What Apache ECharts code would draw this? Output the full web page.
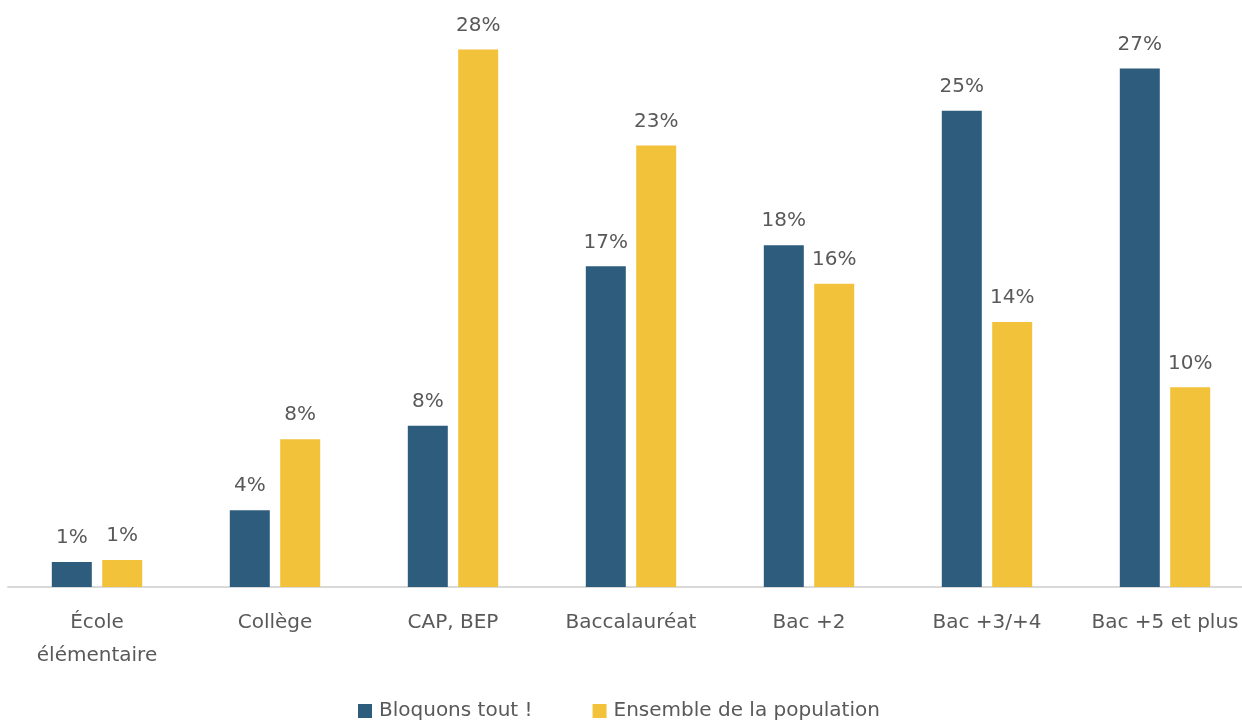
<!DOCTYPE html>
<html lang="fr">
<head>
<meta charset="utf-8">
<title>Niveau de diplôme</title>
<script src="https://cdn.jsdelivr.net/npm/echarts@6/dist/echarts.min.js"></script>
<style>
  html, body { margin: 0; padding: 0; background: #ffffff; overflow: hidden; }
  /* the chart runs a little past the right edge of the window */
  #chart { width: 1256px; height: 722px; }
</style>
</head>
<body>
<div id="chart"></div>
<script>
// Niveau de diplôme : mouvement « Bloquons tout ! » comparé à l'ensemble de la population (%)
const categories = ['École\nélémentaire', 'Collège', 'CAP, BEP', 'Baccalauréat', 'Bac +2', 'Bac +3/+4', 'Bac +5 et plus'];
const bloquonsTout = [1.3, 4.0, 8.4, 16.7, 17.8, 24.8, 27.0];
const ensemblePopulation = [1.4, 7.7, 28.0, 23.0, 15.8, 13.8, 10.4];
const seriesNames = ['Bloquons tout !', 'Ensemble de la population'];

const FONT = '"DejaVu Sans", "Open Sans", sans-serif';
const TEXT_COLOR = '#595959';
const labelStyle = {
  show: true,
  position: 'top',
  distance: 14,
  color: TEXT_COLOR,
  fontSize: 20,
  fontFamily: FONT,
  formatter: p => Math.round(p.value) + '%'
};

const chart = echarts.init(document.getElementById('chart'), null, { renderer: 'canvas' });
chart.setOption({
  animation: false,
  color: ['#2e5c7d', '#f2c23a'],
  grid: { left: 8, right: 2, top: 11, bottom: 135, containLabel: false },
  legend: {
    data: seriesNames,
    top: 696,
    left: 353,
    itemWidth: 14,
    itemHeight: 14,
    itemGap: 60,
    icon: 'rect',
    textStyle: { color: TEXT_COLOR, fontSize: 20, fontFamily: FONT, padding: [0, 0, 0, 2] }
  },
  xAxis: {
    type: 'category',
    data: categories,
    axisLine: { lineStyle: { color: '#d9d9d9', width: 2 } },
    axisTick: { show: false },
    axisLabel: {
      color: TEXT_COLOR,
      fontSize: 20,
      fontFamily: FONT,
      margin: 19,
      lineHeight: 33,
      interval: 0
    }
  },
  yAxis: {
    type: 'value',
    min: 0,
    max: 30,
    interval: 5,
    show: false,
    splitLine: { show: false }
  },
  series: [
    {
      name: seriesNames[0],
      type: 'bar',
      data: bloquonsTout,
      barWidth: 40,
      barGap: '26%',
      label: labelStyle
    },
    {
      name: seriesNames[1],
      type: 'bar',
      data: ensemblePopulation,
      barWidth: 40,
      label: labelStyle
    }
  ]
});
</script>
</body>
</html>
